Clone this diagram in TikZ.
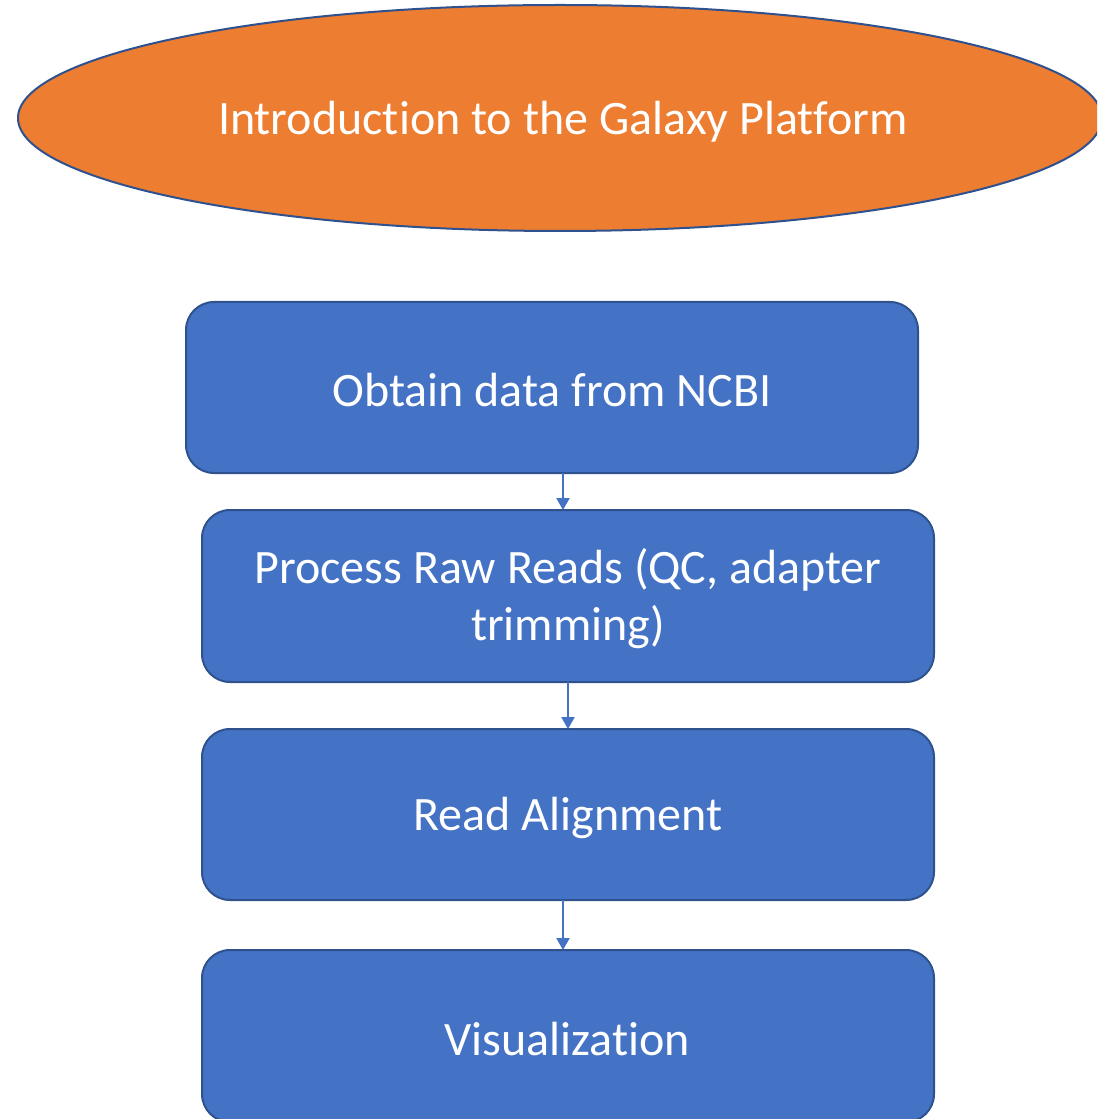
\documentclass[tikz,border=0pt]{standalone}
\usepackage{fontspec}
\setmainfont{Carlito}[Ligatures=NoCommon]
\usetikzlibrary{arrows.meta}
\definecolor{boxblue}{HTML}{4472C4}
\definecolor{edgeblue}{HTML}{2F528F}
\definecolor{ovalorange}{HTML}{ED7D31}
\tikzset{
  stepbox/.style={draw=edgeblue, fill=boxblue, line width=1.5pt, rounded corners=21pt},
  lbl/.style={text=white, font=\fontsize{36}{42.75}\selectfont, align=center},
  conn/.style={draw=boxblue, line width=0.9pt, -{Triangle[length=9pt,width=10pt]}}
}
\begin{document}
\begin{tikzpicture}[x=0.75pt,y=-0.75pt]
\useasboundingbox (0,0) rectangle (1097,1119);
\begin{scope}
\clip (0,0) rectangle (1097,1119);
% title ellipse
\draw[draw=edgeblue, fill=ovalorange, line width=1.5pt] (560,118) ellipse [x radius=542, y radius=113];
\node[lbl] (title) at (563,122) {Introduction to the Galaxy Platform};
% boxes
\draw[stepbox] (186,302) rectangle (918,473);
\node[lbl] (t1) at (552,390) {Obtain data from NCBI};
\draw[stepbox] (202,510) rectangle (934,682);
\node[lbl] (t2) at (568,599) {Process Raw Reads (QC, adapter\\trimming)};
\draw[stepbox] (202,729) rectangle (934,900);
\node[lbl] (t3) at (568,818) {Read Alignment};
\draw[stepbox] (202,950) rectangle (934,1122);
\node[lbl] (t4) at (567,1039) {Visualization};
% connector anchors
\coordinate (a1s) at (563,473);
\coordinate (a1e) at (563,510);
\coordinate (a2s) at (568,682);
\coordinate (a2e) at (568,729);
\coordinate (a3s) at (563,900);
\coordinate (a3e) at (563,950);
\draw[conn] (a1s) -- (a1e);
\draw[conn] (a2s) -- (a2e);
\draw[conn] (a3s) -- (a3e);
\end{scope}
\end{tikzpicture}
\end{document}
